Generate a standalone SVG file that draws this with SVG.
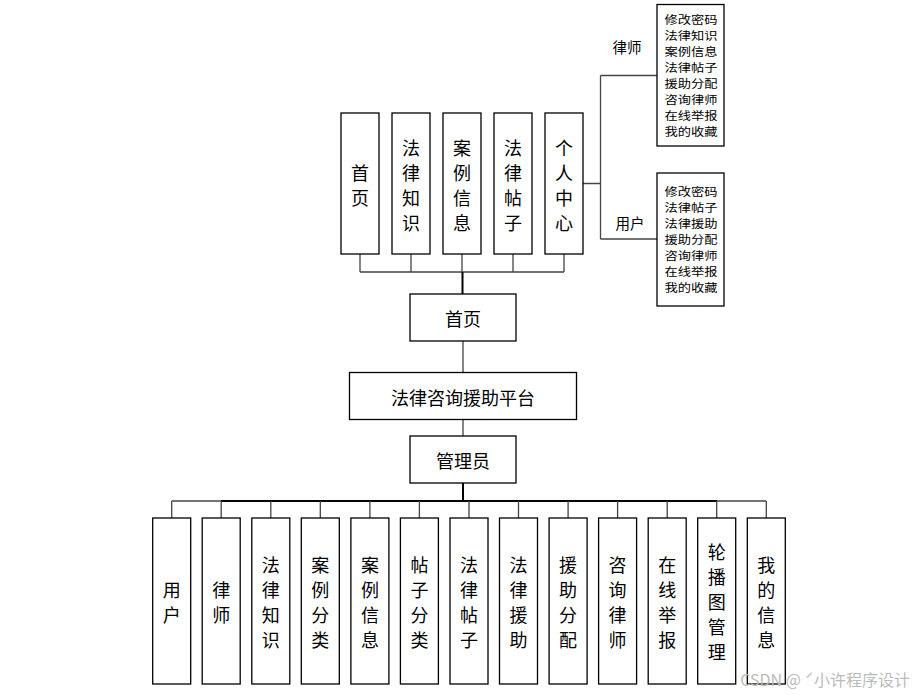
<svg xmlns="http://www.w3.org/2000/svg" width="914" height="695" viewBox="0 0 914 695">
<style>
.box{fill:#fff;stroke:#000;stroke-width:1.3}
.t{font-family:"Noto Sans CJK SC","Liberation Serif",serif;font-size:18px;fill:#000;text-anchor:middle;dominant-baseline:central}
.s{font-family:"Noto Sans CJK SC","Liberation Sans",sans-serif;font-size:11px;fill:#000;dominant-baseline:central}
.lb{font-family:"Noto Sans CJK SC","Liberation Sans",sans-serif;font-size:14.5px;fill:#000;text-anchor:middle;dominant-baseline:central}
.ln{fill:none;stroke:#444;stroke-width:1.3}
.tk{fill:none;stroke:#000;stroke-width:2}
.wm{font-family:"Noto Sans CJK SC","Liberation Sans",sans-serif;font-size:16px;fill:#bbb;text-anchor:end}
</style>
<rect width="914" height="695" fill="#fff"/>
<g id="connectors">
<path class="ln" d="M360 254V272M411 254V272M462 254V272M513 254V272M564 254V272M360 272H564"/>
<path class="tk" d="M462.5 272V294"/>
<path class="ln" d="M582 183.5H600.5M600.5 75.5V239M600.5 75.5H657M600.5 239H657"/>
<path class="ln" d="M463 341V372M463 419V436"/>
<path class="tk" d="M463 483V501"/>
<path class="ln" d="M171.7 501H766"/>
<path class="tk" d="M221 501H717"/>
<path class="ln" d="M171.7 501V518M221.2 501V518M270.8 501V518M320.3 501V518M369.9 501V518M419.4 501V518M469 501V518M518.5 501V518M568.1 501V518M617.6 501V518M667.2 501V518M716.7 501V518M766.3 501V518"/>
</g>
<g id="top-shouye"><rect class="box" x="341" y="113" width="38" height="141"/><text class="t" x="360" y="171.7">首</text><text class="t" x="360" y="196.7">页</text></g>
<g id="top-falvzhishi"><rect class="box" x="392" y="113" width="38" height="141"/><text class="t" x="411" y="146.7">法</text><text class="t" x="411" y="171.7">律</text><text class="t" x="411" y="196.7">知</text><text class="t" x="411" y="221.7">识</text></g>
<g id="top-anli"><rect class="box" x="443" y="113" width="38" height="141"/><text class="t" x="462" y="146.7">案</text><text class="t" x="462" y="171.7">例</text><text class="t" x="462" y="196.7">信</text><text class="t" x="462" y="221.7">息</text></g>
<g id="top-tiezi"><rect class="box" x="494" y="113" width="38" height="141"/><text class="t" x="513" y="146.7">法</text><text class="t" x="513" y="171.7">律</text><text class="t" x="513" y="196.7">帖</text><text class="t" x="513" y="221.7">子</text></g>
<g id="top-geren"><rect class="box" x="545" y="113" width="38" height="141"/><text class="t" x="564" y="146.7">个</text><text class="t" x="564" y="171.7">人</text><text class="t" x="564" y="196.7">中</text><text class="t" x="564" y="221.7">心</text></g>
<g id="lawyer-menu">
<text class="lb" x="627" y="46">律师</text>
<rect class="box" x="657" y="4.5" width="67" height="141.5"/>
<text class="s" x="664.5" y="18.5" textLength="53" lengthAdjust="spacingAndGlyphs">修改密码</text>
<text class="s" x="664.5" y="34.5" textLength="53" lengthAdjust="spacingAndGlyphs">法律知识</text>
<text class="s" x="664.5" y="50.5" textLength="53" lengthAdjust="spacingAndGlyphs">案例信息</text>
<text class="s" x="664.5" y="66.5" textLength="53" lengthAdjust="spacingAndGlyphs">法律帖子</text>
<text class="s" x="664.5" y="82.5" textLength="53" lengthAdjust="spacingAndGlyphs">援助分配</text>
<text class="s" x="664.5" y="98.5" textLength="53" lengthAdjust="spacingAndGlyphs">咨询律师</text>
<text class="s" x="664.5" y="114.5" textLength="53" lengthAdjust="spacingAndGlyphs">在线举报</text>
<text class="s" x="664.5" y="130.5" textLength="53" lengthAdjust="spacingAndGlyphs">我的收藏</text>
</g>
<g id="user-menu">
<text class="lb" x="630" y="222">用户</text>
<rect class="box" x="657" y="173" width="67" height="133"/>
<text class="s" x="664.5" y="190.5" textLength="53" lengthAdjust="spacingAndGlyphs">修改密码</text>
<text class="s" x="664.5" y="206.5" textLength="53" lengthAdjust="spacingAndGlyphs">法律帖子</text>
<text class="s" x="664.5" y="222.5" textLength="53" lengthAdjust="spacingAndGlyphs">法律援助</text>
<text class="s" x="664.5" y="238.5" textLength="53" lengthAdjust="spacingAndGlyphs">援助分配</text>
<text class="s" x="664.5" y="254.5" textLength="53" lengthAdjust="spacingAndGlyphs">咨询律师</text>
<text class="s" x="664.5" y="270.5" textLength="53" lengthAdjust="spacingAndGlyphs">在线举报</text>
<text class="s" x="664.5" y="286.5" textLength="53" lengthAdjust="spacingAndGlyphs">我的收藏</text>
</g>
<g id="home"><rect class="box" x="410" y="294" width="106" height="47"/><text class="t" x="463" y="318">首页</text></g>
<g id="platform"><rect class="box" x="349.5" y="372.5" width="227" height="47"/><text class="t" x="463" y="397">法律咨询援助平台</text></g>
<g id="admin"><rect class="box" x="410" y="436" width="106" height="47"/><text class="t" x="463" y="460">管理员</text></g>
<g id="b-yonghu"><rect class="box" x="152.7" y="518" width="38" height="166"/><text class="t" x="171.7" y="588.5">用</text><text class="t" x="171.7" y="613.5">户</text></g>
<g id="b-lvshi"><rect class="box" x="202.2" y="518" width="38" height="166"/><text class="t" x="221.2" y="588.5">律</text><text class="t" x="221.2" y="613.5">师</text></g>
<g id="b-zhishi"><rect class="box" x="251.8" y="518" width="38" height="166"/><text class="t" x="270.8" y="563.5">法</text><text class="t" x="270.8" y="588.5">律</text><text class="t" x="270.8" y="613.5">知</text><text class="t" x="270.8" y="638.5">识</text></g>
<g id="b-anlifenlei"><rect class="box" x="301.3" y="518" width="38" height="166"/><text class="t" x="320.3" y="563.5">案</text><text class="t" x="320.3" y="588.5">例</text><text class="t" x="320.3" y="613.5">分</text><text class="t" x="320.3" y="638.5">类</text></g>
<g id="b-anlixinxi"><rect class="box" x="350.9" y="518" width="38" height="166"/><text class="t" x="369.9" y="563.5">案</text><text class="t" x="369.9" y="588.5">例</text><text class="t" x="369.9" y="613.5">信</text><text class="t" x="369.9" y="638.5">息</text></g>
<g id="b-tiezifenlei"><rect class="box" x="400.4" y="518" width="38" height="166"/><text class="t" x="419.4" y="563.5">帖</text><text class="t" x="419.4" y="588.5">子</text><text class="t" x="419.4" y="613.5">分</text><text class="t" x="419.4" y="638.5">类</text></g>
<g id="b-tiezi"><rect class="box" x="450" y="518" width="38" height="166"/><text class="t" x="469" y="563.5">法</text><text class="t" x="469" y="588.5">律</text><text class="t" x="469" y="613.5">帖</text><text class="t" x="469" y="638.5">子</text></g>
<g id="b-yuanzhu"><rect class="box" x="499.5" y="518" width="38" height="166"/><text class="t" x="518.5" y="563.5">法</text><text class="t" x="518.5" y="588.5">律</text><text class="t" x="518.5" y="613.5">援</text><text class="t" x="518.5" y="638.5">助</text></g>
<g id="b-fenpei"><rect class="box" x="549.1" y="518" width="38" height="166"/><text class="t" x="568.1" y="563.5">援</text><text class="t" x="568.1" y="588.5">助</text><text class="t" x="568.1" y="613.5">分</text><text class="t" x="568.1" y="638.5">配</text></g>
<g id="b-zixun"><rect class="box" x="598.6" y="518" width="38" height="166"/><text class="t" x="617.6" y="563.5">咨</text><text class="t" x="617.6" y="588.5">询</text><text class="t" x="617.6" y="613.5">律</text><text class="t" x="617.6" y="638.5">师</text></g>
<g id="b-jubao"><rect class="box" x="648.2" y="518" width="38" height="166"/><text class="t" x="667.2" y="563.5">在</text><text class="t" x="667.2" y="588.5">线</text><text class="t" x="667.2" y="613.5">举</text><text class="t" x="667.2" y="638.5">报</text></g>
<g id="b-lunbo"><rect class="box" x="697.7" y="518" width="38" height="166"/><text class="t" x="716.7" y="551">轮</text><text class="t" x="716.7" y="576">播</text><text class="t" x="716.7" y="601">图</text><text class="t" x="716.7" y="626">管</text><text class="t" x="716.7" y="651">理</text></g>
<g id="b-xinxi"><rect class="box" x="747.3" y="518" width="38" height="166"/><text class="t" x="766.3" y="563.5">我</text><text class="t" x="766.3" y="588.5">的</text><text class="t" x="766.3" y="613.5">信</text><text class="t" x="766.3" y="638.5">息</text></g>
<text class="wm" x="910" y="686">CSDN @ ˊ小许程序设计</text>
</svg>
